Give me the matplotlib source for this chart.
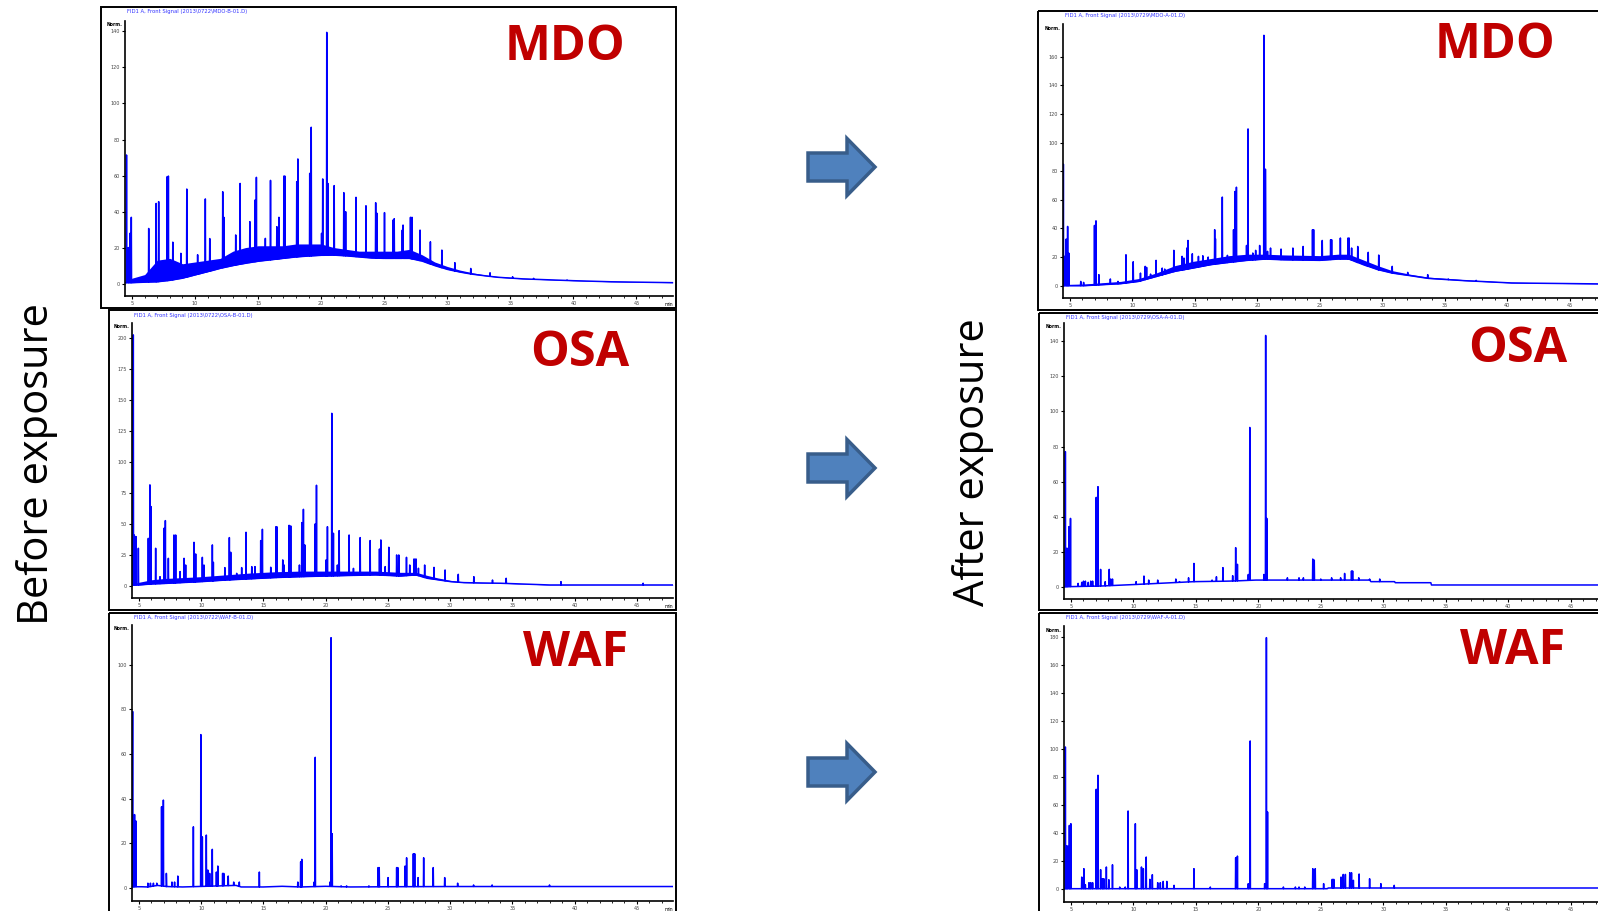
import numpy as np
import matplotlib
matplotlib.use('Agg')
import matplotlib.pyplot as plt
from matplotlib.patches import Rectangle, Polygon
from matplotlib.ticker import MultipleLocator

W, H = 1598, 911
BLUE = '#0000FF'
RED = '#C00000'

# ---------------- data: retention time (min) / detector response ----------------
# MDO, before exposure
mdo_b_base_t = [4.5, 5, 6, 7, 8, 9, 10, 11, 12, 13, 14, 15, 16, 17, 18, 19, 20, 21, 22, 23,
                24, 25, 26, 27, 28, 29, 30, 31, 32, 33, 34, 36, 38, 40, 43, 47.9]
mdo_b_base_lo = [0.5, 0.5, 0.8, 1.0, 1.8, 3, 4.8, 6.6, 8.5, 10, 11.3, 12.4, 13.2, 14, 14.8, 15.3,
                 15.7, 15.8, 15.4, 14.8, 14.2, 14, 14, 14, 12.5, 10, 7.9, 6.4, 5.2, 4.3, 3.5, 2.6,
                 2.1, 1.6, 1.0, 0.5]
mdo_b_base_hi = [1, 3, 5, 13, 14, 11, 12, 13, 14, 18, 20, 21, 21, 21, 22, 22, 22, 20, 19, 18,
                 18, 18, 18, 19, 16, 12, 9.5, 7.5, 6, 4.8, 4, 3, 2.4, 1.9, 1.3, 0.8]
mdo_b_peak_t = [4.56, 4.71, 4.85, 4.94, 6.32, 6.91, 7.11, 7.79, 7.88, 8.23, 8.87, 9.34, 10.2,
                10.81, 11.16, 12.19, 12.28, 13.22, 13.57, 14.34, 14.75, 14.86, 15.57, 15.98,
                16.48, 16.65, 17.04, 17.12, 18.06, 18.15, 19.09, 19.21, 20.03, 20.12, 20.44,
                20.53, 21.03, 21.79, 21.94, 22.76, 23.55, 24.32, 24.43, 25.02, 25.7, 25.79,
                26.43, 26.49, 27.08, 27.2, 27.84, 28.66, 29.57, 30.6, 31.86, 33.39, 35.18,
                36.85, 39.5]
mdo_b_peak_h = [71.4, 20, 28, 36.8, 30.6, 44.5, 45.5, 59.4, 59.7, 23, 16.8, 52.5, 16, 47, 25,
                51, 36.8, 27, 55.6, 34.4, 46.4, 59, 25.1, 57.3, 31.6, 36.8, 59.7, 59.7, 56.6,
                69.2, 61.2, 86.8, 27.9, 58.1, 139.5, 55.6, 54.4, 50.5, 39.9, 47.9, 43.2, 44.9,
                39, 39.4, 35.3, 36, 29.7, 32.5, 36.8, 36.8, 29.7, 23.2, 18.6, 11.6, 8.4, 6,
                3.8, 2.9, 2]

# OSA, before exposure
osa_b_base_t = [4.5, 5, 6, 7, 8, 10, 12, 14, 16, 18, 20, 22, 24, 25, 26, 27.25, 28.16, 29,
                30.03, 31.09, 32.5, 34.03, 36, 38, 42, 47.9]
osa_b_base_lo = [0.8, 0.8, 1.6, 2.0, 2.5, 3.5, 4.8, 5.8, 6.8, 7.5, 8.0, 8.5, 8.9, 8.5, 8.0, 8.9,
                 6.2, 5.0, 3.5, 2.7, 2.4, 2.2, 1.5, 0.8, 0.8, 0.8]
osa_b_base_hi = [1.5, 3, 5, 6, 6.5, 7.5, 9, 10.5, 11.5, 12, 12, 12, 12, 11.5, 11, 11, 8.5, 6.5,
                 4.5, 3.3, 2.8, 2.5, 1.8, 1.1, 1.0, 1.0]
osa_b_peak_t = [4.545, 4.625, 4.76, 4.95, 5.75, 5.88, 5.965, 6.34, 6.69, 7.01, 7.12, 7.36, 7.81,
                7.95, 8.3, 8.62, 8.75, 9.42, 9.555, 10.09, 10.22, 10.895, 10.975, 11.9, 12.26,
                12.37, 12.85, 13.25, 13.6, 14.06, 14.32, 14.78, 14.915, 15.585, 16.01, 16.07,
                16.55, 16.66, 17.06, 17.19, 17.89, 18.08, 18.21, 18.32, 19.15, 19.26, 20.03,
                20.14, 20.49, 20.62, 20.94, 21.08, 21.88, 22.23, 22.77, 23.57, 24.32, 24.43,
                24.78, 25.07, 25.7, 25.87, 26.49, 26.75, 27.1, 27.25, 27.45, 27.95, 28.7,
                29.59, 30.65, 31.9, 33.4, 34.5, 38.9, 45.5]
osa_b_peak_h = [202.4, 41.1, 39.8, 30.4, 38.4, 81.5, 64, 30.4, 7.5, 46.5, 52.7, 22.3, 41.1, 41.1,
                11.6, 22.3, 16.9, 35.2, 25.8, 23.1, 16.9, 33.1, 19.1, 14.8, 39, 27.2, 10.2,
                14.8, 43.3, 15.6, 15.6, 36.6, 45.7, 15.1, 47.8, 47.8, 21, 16.9, 48.9, 48.4,
                16.9, 51.1, 61.8, 33.1, 50, 81.2, 21, 47.8, 139.2, 42.5, 16.9, 44.6, 41.1,
                14.2, 39, 36.6, 29.8, 37.1, 15.6, 31.2, 25.0, 25.0, 23.1, 16.9, 21.8, 21.8,
                14.3, 16.9, 15, 12.9, 9.4, 7.5, 4.8, 6.2, 3.5, 2.2]

# WAF, before exposure
waf_b_base_t = [4.5, 5.2, 5.7, 6.5, 7.2, 8.5, 12.8, 13.2, 15, 16.5, 18, 20, 22, 25, 30, 47.9]
waf_b_base_lo = [0.4, 0.4, 0.3, 1.0, 0.5, 0.3, 1.0, 0.3, 0.3, 0.6, 0.3, 0.6, 0.3, 0.4, 0.5, 0.5]
waf_b_peak_t = [4.49, 4.56, 4.645, 4.76, 5.715, 5.92, 6.16, 6.43, 6.815, 6.96, 7.2, 7.65, 7.86,
                8.12, 9.37, 9.97, 10.09, 10.41, 10.53, 10.68, 10.89, 11.22, 11.335, 11.72,
                11.81, 12.17, 12.61, 13.06, 14.67, 17.76, 17.99, 18.08, 19.07, 19.16, 20.34,
                20.43, 20.52, 21.24, 21.68, 23.47, 24.21, 24.3, 25.01, 25.7, 25.79, 26.38,
                26.5, 27.04, 27.15, 27.42, 27.87, 28.64, 29.56, 30.6, 31.88, 33.37, 37.98]
waf_b_peak_h = [79.1, 22.4, 32.8, 29.9, 2, 2, 2, 2, 36.3, 39.3, 6.4, 2.5, 2.5, 5.2, 27.3, 68.7,
                22.8, 23.6, 7.9, 6.4, 17.2, 7, 9.7, 6.4, 6.4, 5.2, 2.5, 2.5, 7, 2.5, 11.6, 12.7,
                2.5, 58.5, 2.5, 112.2, 24.2, 0.8, 0.8, 0.8, 9, 9, 4.5, 9, 9, 9.7, 13.4, 15.2,
                15.2, 4.5, 13.4, 9, 4.5, 2, 1.2, 1.2, 1.2]

# MDO, after exposure
mdo_a_base_t = [4.5, 6.15, 9.05, 10.5, 11.94, 13.39, 14.84, 16.29, 17.74, 19.19, 20.64, 22.09,
                24.99, 26.44, 27.31, 28.47, 29.63, 30.79, 32.23, 33.68, 36.58, 40.35, 47.9]
mdo_a_base_lo = [0, 0, 1.4, 3, 6.5, 10, 12.3, 14.7, 16.3, 17.7, 18.6, 18.1, 17.7, 18.6, 18.6,
                 14.7, 11.2, 8.8, 7, 5.1, 3.5, 1.9, 1.2]
mdo_a_base_hi = [0.8, 1.2, 3, 5, 9, 14, 17, 19, 21, 22, 22, 21.5, 21, 22, 22, 18, 14, 10.5, 8,
                 6, 4.2, 2.4, 1.5]
mdo_a_peak_t = [4.47, 4.55, 4.7, 4.81, 4.9, 5.86, 6.09, 6.96, 7.08, 7.31, 8.23, 8.84, 9.48,
                10.06, 10.64, 11.02, 11.13, 11.45, 11.89, 12.38, 12.58, 13.31, 13.97, 14.12,
                14.35, 14.44, 14.79, 15.28, 15.63, 16.06, 16.58, 16.64, 17.19, 17.6, 18.09,
                18.21, 18.32, 19.13, 19.25, 19.63, 19.86, 20.18, 20.52, 20.64, 20.81, 21.05,
                21.89, 22.84, 23.66, 24.41, 24.5, 25.19, 25.86, 25.94, 26.64, 27.25, 27.34,
                27.54, 28.03, 28.87, 29.71, 30.79, 32.03, 33.63, 35.28, 37.51]
mdo_a_peak_h = [84.9, 20.5, 32.6, 41.4, 22.8, 3, 2.3, 42.1, 45.3, 7.7, 4.7, 3, 21.6, 16.7, 8.8,
                13.5, 12.8, 8.1, 17.7, 12.3, 11.6, 24.7, 20.5, 19.3, 26.3, 31.6, 22.3, 20.5,
                20.9, 20, 39.1, 32.8, 61.9, 21.2, 39.1, 65.8, 68.8, 28.1, 109.5, 22.8, 24.7,
                28.1, 174.9, 81.4, 24, 26.3, 25.6, 26.3, 27.4, 39.1, 39.1, 31.6, 32.1, 32.1,
                33.3, 33.3, 33.3, 26.3, 27.4, 23.3, 21.4, 13.5, 9.3, 7.7, 4.7, 3.7]

# OSA, after exposure
osa_a_base_t = [4.5, 7.4, 10.2, 14.84, 17.74, 19.8, 28.9, 29.0, 30.9, 30.95, 33.8, 33.85, 47.9]
osa_a_base_lo = [0, 0.4, 1.3, 2.9, 3.2, 3.8, 3.8, 2.9, 2.9, 2.3, 2.3, 1.0, 1.0]
osa_a_peak_t = [4.55, 4.64, 4.73, 4.84, 4.96, 5.57, 5.86, 6.0, 6.15, 6.38, 6.58, 6.73, 7.02,
                7.16, 7.37, 7.74, 8.06, 8.18, 8.32, 10.21, 10.84, 11.22, 11.94, 13.39, 13.68,
                14.41, 14.84, 16.29, 16.64, 17.16, 17.94, 18.18, 18.32, 19.19, 19.31, 20.44,
                20.58, 20.67, 22.32, 23.25, 23.6, 24.35, 24.47, 24.99, 25.86, 26.58, 26.9,
                27.45, 27.54, 28.03, 28.9, 29.71]
osa_a_peak_h = [77.1, 21.9, 21.9, 34.3, 39, 1.9, 2.5, 3.2, 3.2, 2.5, 3.2, 3.2, 51, 57.1, 9.9,
                2.9, 9.9, 4.4, 4.4, 2.9, 6.1, 3.8, 3.8, 4.4, 2.9, 5.1, 13.3, 3.8, 5.7, 10.9,
                6.3, 22.3, 12.8, 7, 90.9, 7, 143.4, 39, 5.1, 5.1, 5.1, 15.8, 15.2, 4.4, 5.1,
                5.1, 7.6, 9, 9, 5.1, 4.4, 4.4]

# WAF, after exposure
waf_a_base_t = [4.5, 25.5, 25.6, 47.9]
waf_a_base_lo = [0, 0, 0.5, 0.5]
waf_a_peak_t = [4.55, 4.64, 4.73, 4.87, 4.99, 5.86, 6.03, 6.15, 6.44, 6.58, 6.73, 7.02, 7.16,
                7.37, 7.51, 7.63, 7.83, 8.03, 8.32, 8.9, 9.34, 9.57, 10.15, 10.26, 10.64,
                10.79, 11.02, 11.31, 11.51, 11.94, 12.15, 12.38, 12.67, 13.25, 14.84, 16.15,
                18.18, 18.32, 19.19, 19.34, 20.5, 20.64, 20.73, 22.0, 22.96, 23.25, 23.71,
                24.35, 24.55, 25.22, 25.91, 26.03, 26.61, 26.79, 26.96, 27.31, 27.45, 27.6,
                28.06, 28.9, 29.8, 30.87]
waf_a_peak_h = [101.2, 30.5, 30.5, 45.2, 46.4, 8.3, 14.3, 2.9, 4.3, 4.3, 4.3, 71, 81, 13.6, 7.1,
                7.1, 15.5, 6.4, 17.1, 1.2, 1.2, 55.5, 46.4, 13.6, 15.5, 14.3, 22.6, 6.7, 10,
                4.3, 4.3, 5.2, 5.2, 2.4, 14.3, 1.2, 22.1, 23.3, 3.6, 105.5, 3.6, 179.3, 54.8,
                1.2, 1.2, 1.2, 1.2, 14.3, 14.3, 3.6, 6.7, 6.7, 8.3, 10.2, 10.2, 11.4, 11.4, 6,
                10.5, 7.1, 3.6, 2.4]

sample_names = ['MDO', 'OSA', 'WAF', 'MDO', 'OSA', 'WAF']
file_labels = ['FID1 A, Front Signal (2013\\0722\\MDO-B-01.D)',
               'FID1 A, Front Signal (2013\\0722\\OSA-B-01.D)',
               'FID1 A, Front Signal (2013\\0722\\WAF-B-01.D)',
               'FID1 A, Front Signal (2013\\0729\\MDO-A-01.D)',
               'FID1 A, Front Signal (2013\\0729\\OSA-A-01.D)',
               'FID1 A, Front Signal (2013\\0729\\WAF-A-01.D)']
y_ticks = [np.arange(0, 141, 20), np.arange(0, 201, 25), np.arange(0, 101, 20),
           np.arange(0, 161, 20), np.arange(0, 141, 20), np.arange(0, 181, 20)]
x_ticks = [5, 10, 15, 20, 25, 30, 35, 40, 45]

traces = [
    (mdo_b_base_t, mdo_b_base_lo, mdo_b_base_hi, mdo_b_peak_t, mdo_b_peak_h),
    (osa_b_base_t, osa_b_base_lo, osa_b_base_hi, osa_b_peak_t, osa_b_peak_h),
    (waf_b_base_t, waf_b_base_lo, None, waf_b_peak_t, waf_b_peak_h),
    (mdo_a_base_t, mdo_a_base_lo, mdo_a_base_hi, mdo_a_peak_t, mdo_a_peak_h),
    (osa_a_base_t, osa_a_base_lo, None, osa_a_peak_t, osa_a_peak_h),
    (waf_a_base_t, waf_a_base_lo, None, waf_a_peak_t, waf_a_peak_h),
]

# ---------------- layout (pixels, y down) ----------------
frames = [(101, 7, 676, 308), (109, 310, 676, 610), (109, 613, 676, 915),
          (1038, 11, 1615, 310), (1039, 313, 1615, 610), (1039, 613, 1615, 915)]
plot_boxes = [(125, 21, 673, 296), (132, 323, 673, 598), (132, 625, 673, 901),
              (1063, 24, 1606, 298), (1064, 323, 1607, 599), (1064, 626, 1607, 902)]
ylims = [(-6.9, 145.8), (-9.7, 212), (-6, 117.9), (-8.6, 182.8), (-7, 150.5), (-9.5, 187.6)]
name_pos = [(565, 47), (580, 353), (576, 653), (1495, 46), (1518, 350), (1513, 651)]
arrow_y = [167, 468, 772]


def build_trace(base_t, base_y, peak_t, peak_h, w=0.02):
    xs = list(base_t)
    ys = list(base_y)
    for t, h in zip(peak_t, peak_h):
        b = float(np.interp(t, base_t, base_y))
        xs += [t - w, t, t + w]
        ys += [b, max(h, b), b]
    order = np.argsort(xs, kind='stable')
    return np.asarray(xs)[order], np.asarray(ys)[order]


def fig_rect(l, t, r, b):
    return [l / W, 1 - b / H, (r - l) / W, (b - t) / H]


fig = plt.figure(figsize=(W / 100, H / 100), dpi=100)
fig.patch.set_facecolor('white')

ov = fig.add_axes([0, 0, 1, 1])
ov.set_xlim(0, W)
ov.set_ylim(H, 0)
ov.axis('off')

for i, (l, t, r, b) in enumerate(frames):
    ov.add_patch(Rectangle((l, t), r - l, b - t, fill=False, edgecolor='black',
                           linewidth=1.4, clip_on=False))
    pl, pt, pr, pb = plot_boxes[i]
    ov.text(pl + 2, t + 5, file_labels[i], fontsize=3.8, color='#3333FF',
            ha='left', va='center')
    ov.text(pl - 2, pt + 4, 'Norm.', fontsize=3.3, fontweight='bold',
            ha='right', va='center')
    nx, ny = name_pos[i]
    ov.text(nx, ny, sample_names[i], fontsize=35, fontweight='bold', color=RED,
            family='Open Sans', ha='center', va='center')

# block arrows between the columns
for cy in arrow_y:
    pts = [(808, cy - 14), (847, cy - 14), (847, cy - 28.5), (875, cy),
           (847, cy + 28.5), (847, cy + 14), (808, cy + 14)]
    ov.add_patch(Polygon(pts, closed=True, facecolor='#4F81BD', edgecolor='#385D8A',
                         linewidth=2.5, joinstyle='miter'))

ov.text(37, 464, 'Before exposure', rotation=90, fontsize=30, family='Open Sans',
        ha='center', va='center', color='black')
ov.text(973, 462, 'After exposure', rotation=90, fontsize=30, family='Open Sans',
        ha='center', va='center', color='black')

for i, (bt, blo, bhi, pk_t, pk_h) in enumerate(traces):
    ax = fig.add_axes(fig_rect(*plot_boxes[i]))
    ax.set_facecolor('none')
    if bhi is not None:
        ax.fill_between(bt, blo, bhi, color=BLUE, linewidth=0)
    x, y = build_trace(bt, blo, pk_t, pk_h)
    ax.plot(x, y, color=BLUE, linewidth=1.1)
    ax.set_xlim(4.44, 47.9)
    ax.set_ylim(*ylims[i])
    ax.set_xticks(x_ticks)
    ax.xaxis.set_minor_locator(MultipleLocator(1))
    ax.set_yticks(y_ticks[i])
    ax.tick_params(axis='both', which='major', direction='out', length=2.5, width=0.8,
                   labelsize=3.5, pad=1, labelcolor='#444444')
    ax.tick_params(axis='x', which='minor', direction='out', length=1.5, width=0.6)
    for side in ['top', 'right']:
        ax.spines[side].set_visible(False)
    for side in ['left', 'bottom']:
        ax.spines[side].set_linewidth(1.2)
    # the right-hand column runs past the picture edge, so its "min" is not visible
    if plot_boxes[i][2] < W:
        ax.text(1.0, -0.02, 'min', transform=ax.transAxes, fontsize=3.3,
                ha='right', va='top')

fig.savefig('out.png', dpi=100, facecolor='white')
